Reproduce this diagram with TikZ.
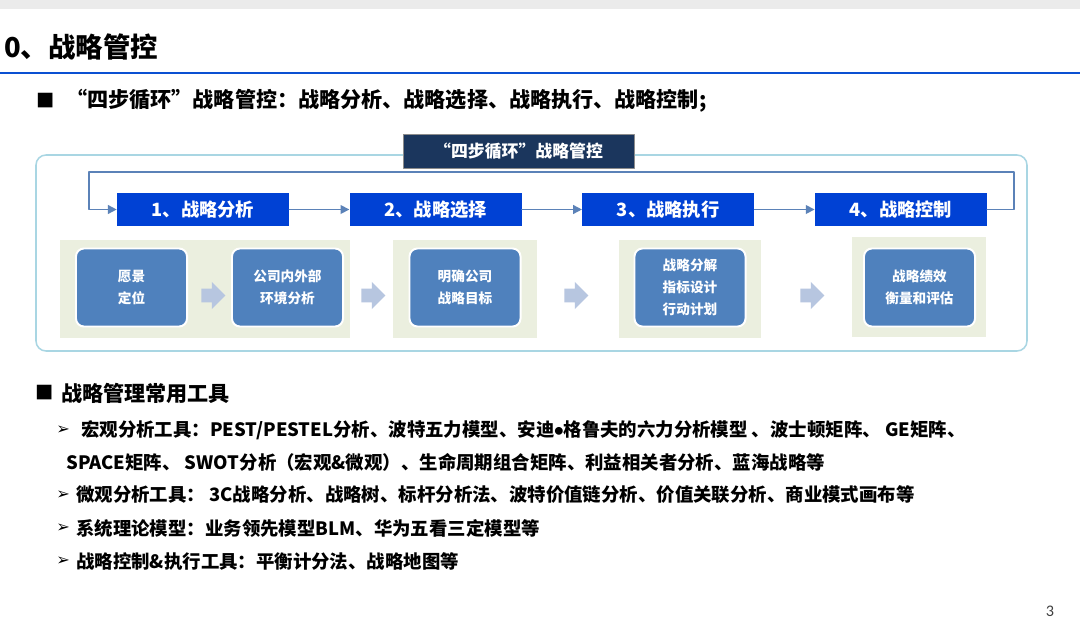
\documentclass[tikz,border=0pt]{standalone}
\usepackage{fontspec}
\setmainfont{Noto Sans CJK SC}
\newfontfamily\symfont{DejaVu Sans}
\newfontfamily\numfont{Carlito}
\usetikzlibrary{arrows.meta, positioning, shapes.arrows}
\definecolor{stepblue}{HTML}{0041D4}
\definecolor{cellblue}{HTML}{4F81BD}
\definecolor{panelgreen}{HTML}{EBEFDF}
\definecolor{blockarr}{HTML}{B7C6E0}
\definecolor{navy}{HTML}{1B365D}
\definecolor{rimblue}{HTML}{A9D6E3}
\definecolor{rulerblue}{HTML}{0A50D2}
\definecolor{flowblue}{HTML}{5B82B8}
\tikzset{
  >={Triangle[length=2.2mm, width=2.2mm]},
  every picture/.style={line cap=round, line join=round},
  stepbox/.style={fill=stepblue, text=white, minimum width=4.3cm, minimum height=0.825cm,
    inner sep=0pt, font=\fontsize{13}{15}\selectfont\bfseries},
  panel/.style={fill=panelgreen, minimum height=2.45cm, inner sep=0pt},
  cell/.style={fill=cellblue, draw=white, line width=1.4pt, rounded corners=0.2cm,
    minimum width=2.775cm, minimum height=1.95cm, text=white, align=center,
    font=\fontsize{9.7}{15.6}\selectfont\bfseries},
  blockarrow/.style={single arrow, fill=blockarr, minimum height=0.6cm,
    inner xsep=0pt, inner ysep=0.165cm, single arrow head extend=0.17cm},
  flow/.style={flowblue, line width=1.1pt, ->},
  txt/.style={anchor=west, inner sep=0pt},
  tool/.style={txt, font=\fontsize{13.1}{15}\selectfont\bfseries},
  arrbullet/.style={txt, font=\fontsize{11.5}{13}\selectfont\symfont},
}
\begin{document}
\begin{tikzpicture}[x=0.025cm, y=-0.025cm]
  \useasboundingbox[fill=white] (0,0) rectangle (1080,625);
  % page header
  \fill[black!8] (0,0) rectangle (1080,9);
  \draw[rulerblue, line width=1.3pt] (0,73) -- (1080,73);
  \node[txt, font=\fontsize{19.5}{22}\selectfont\bfseries] (title) at (4,47) {0、战略管控};
  \node[txt, font=\fontsize{13}{15}\selectfont] (sq1) at (36,101) {■};
  \node[txt, font=\fontsize{15}{18}\selectfont\bfseries] (lead) at (66,101)
    {“四步循环”战略管控：战略分析、战略选择、战略执行、战略控制;};

  % four-step loop
  \draw[rimblue, line width=1.1pt, rounded corners=0.25cm] (36,155) rectangle (1027,351);
  \node[fill=navy, draw=black!45, line width=0.6pt, text=white, minimum width=5.775cm,
    minimum height=0.85cm, inner sep=0pt, font=\fontsize{12}{14}\selectfont\bfseries]
    (looptitle) at (518.5,151) {“四步循环”战略管控};

  \node[stepbox] (s1) at (203,209.5) {1、战略分析};
  \node[stepbox, right=1.5cm of s1] (s2) {2、战略选择};
  \node[stepbox, right=1.5cm of s2] (s3) {3、战略执行};
  \node[stepbox, right=1.5cm of s3] (s4) {4、战略控制};
  \draw[flow] (s1) -- (s2);
  \draw[flow] (s2) -- (s3);
  \draw[flow] (s3) -- (s4);
  \coordinate (loopR) at (1014,172);
  \coordinate (loopL) at (89,172);
  \draw[flow] (s4.east) -| (loopR) -- (loopL) |- (s1.west);

  % contents of each step
  \node[panel, minimum width=7.25cm] (p1) at (205,289) {};
  \node[panel, minimum width=3.6cm] (p2) at (465,289) {};
  \node[panel, minimum width=3.55cm] (p3) at (690,289) {};
  \node[panel, minimum width=3.35cm, minimum height=2.5cm] (p4) at (919,287) {};

  \node[cell] (vision) at (131.5,287.5) {愿景\\定位};
  \node[cell] (scan) at (287.5,287.5) {公司内外部\\环境分析};
  \node[cell] (goal) at (465,287.5) {明确公司\\战略目标};
  \node[cell] (plan) at (690,287.5) {战略分解\\指标设计\\行动计划};
  \node[cell] (review) at (919.5,287.5) {战略绩效\\衡量和评估};

  \node[blockarrow] (a1) at (210,295.5) {};
  \node[blockarrow] (a2) at (370,295.5) {};
  \node[blockarrow] (a3) at (573,295.5) {};
  \node[blockarrow] (a4) at (809,295.5) {};

  % tools
  \node[txt, font=\fontsize{13}{15}\selectfont] (sq2) at (35,393) {■};
  \node[txt, font=\fontsize{15}{18}\selectfont\bfseries] (toolhead) at (61,393) {战略管理常用工具};
  \node[arrbullet] (m1) at (56,430) {➢};
  \node[tool] (t1) at (81,430)
    {宏观分析工具：PEST/PESTEL分析、波特五力模型、安迪{\numfont\bfseries •}格鲁夫的六力分析模型 、波士顿矩阵、 GE矩阵、};
  \node[tool] (t1b) at (66,462)
    {SPACE矩阵、 SWOT分析（宏观\&微观）、生命周期组合矩阵、利益相关者分析、蓝海战略等};
  \node[arrbullet] (m2) at (56,495) {➢};
  \node[tool] (t2) at (76,495)
    {微观分析工具： 3C战略分析、战略树、标杆分析法、波特价值链分析、价值关联分析、商业模式画布等};
  \node[arrbullet] (m3) at (56,528) {➢};
  \node[tool] (t3) at (76,528) {系统理论模型：业务领先模型BLM、华为五看三定模型等};
  \node[arrbullet] (m4) at (56,561) {➢};
  \node[tool] (t4) at (76,561) {战略控制\&执行工具：平衡计分法、战略地图等};

  \node[text=black!75, font=\fontsize{11.5}{13}\selectfont\numfont] (pageno) at (1050,611) {3};
\end{tikzpicture}
\end{document}
